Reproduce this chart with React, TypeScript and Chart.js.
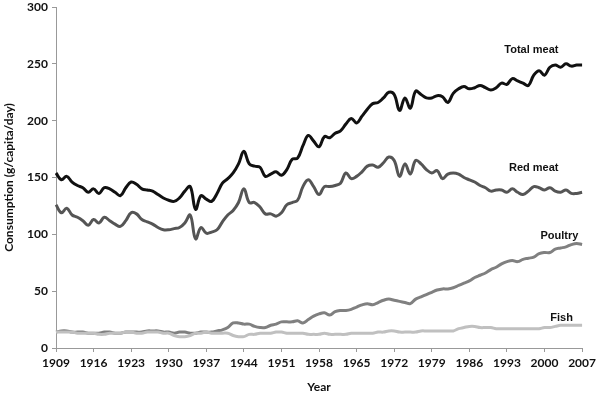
import React, { useEffect, useRef } from "react";
import { Chart, registerables } from "chart.js";

Chart.register(...registerables);

const years: number[] = [];
for (let y = 1909; y <= 2007; y++) years.push(y);

const totalMeat = [
  154, 148, 151, 146, 143, 141, 137, 140, 136, 141,
  140, 137, 134, 141, 146, 144, 140, 139, 138, 135,
  132, 130, 129, 132, 138, 142, 122, 134, 131, 129,
  136, 145, 149, 154, 162, 173, 162, 160, 159, 151,
  153, 155, 152, 157, 166, 167, 178, 187, 182, 177,
  186, 185, 189, 191, 197, 202, 198, 204, 210, 215,
  216, 220, 225, 223, 209, 220, 211, 226, 223, 220,
  220, 222, 221, 216, 224, 228, 230, 228, 229, 231,
  229, 227, 229, 233, 232, 237, 235, 233, 231, 240,
  244, 240, 247, 249, 247, 250, 248, 249, 249,
];

const redMeat = [
  126, 119, 123, 117, 115, 112, 108, 113, 110, 115,
  112, 109, 107, 112, 119, 118, 113, 111, 109, 106,
  104, 104, 105, 106, 110, 117, 96, 106, 101, 102,
  104, 111, 117, 121, 128, 140, 128, 128, 124, 118,
  118, 116, 119, 126, 128, 130, 142, 148, 142, 135,
  142, 142, 143, 145, 154, 149, 151, 155, 160, 161,
  159, 163, 168, 165, 151, 162, 153, 165, 162, 157,
  154, 156, 149, 153, 154, 153, 150, 148, 146, 143,
  141, 138, 139, 139, 137, 140, 137, 135, 138, 142,
  141, 139, 141, 138, 137, 139, 136, 136, 137,
];

const poultry = [
  14, 15, 15, 14, 14, 14, 13, 13, 13, 14,
  14, 13, 13, 14, 14, 14, 14, 15, 15, 15,
  14, 14, 13, 14, 14, 13, 13, 14, 14, 14,
  15, 16, 18, 22, 22, 21, 21, 19, 18, 18,
  20, 21, 23, 23, 23, 24, 22, 25, 28, 30,
  31, 29, 32, 33, 33, 34, 36, 38, 39, 38,
  40, 42, 43, 42, 41, 40, 39, 43, 45, 47,
  49, 51, 52, 52, 53, 55, 57, 59, 62, 64,
  66, 69, 71, 74, 76, 77, 76, 78, 79, 80,
  83, 84, 84, 87, 88, 89, 91, 92, 91,
];

const fish = [
  14, 14, 14, 14, 13, 13, 13, 13, 12, 12,
  13, 13, 13, 14, 14, 13, 13, 14, 14, 14,
  13, 13, 11, 10, 10, 11, 13, 13, 14, 13,
  13, 13, 13, 11, 10, 10, 12, 12, 13, 13,
  13, 14, 14, 13, 13, 13, 13, 12, 12, 12,
  13, 12, 12, 12, 12, 13, 13, 13, 13, 13,
  14, 14, 15, 15, 14, 14, 14, 14, 15, 15,
  15, 15, 15, 15, 15, 17, 18, 19, 19, 18,
  18, 18, 17, 17, 17, 17, 17, 17, 17, 17,
  17, 18, 18, 19, 20, 20, 20, 20, 20,
];

const seriesNames = ["Total meat", "Red meat", "Poultry", "Fish"];
const seriesColors = ["#111111", "#555555", "#808080", "#c0c0c0"];
// label anchors: [year, value] where the right edge / middle of the label sits
const labelAnchors: [number, number][] = [
  [2002.6, 262],
  [2002.6, 158],
  [2006.3, 99],
  [2005.3, 26],
];

const seriesLabelPlugin = {
  id: "seriesLabels",
  afterDatasetsDraw(chart: any) {
    const { ctx, scales } = chart;
    const xs = scales.x;
    const ys = scales.y;
    const x0 = xs.getPixelForValue(0);
    const x1 = xs.getPixelForValue(years.length - 1);
    ctx.save();
    ctx.font = "bold 11px 'Liberation Sans', Arial, sans-serif";
    ctx.fillStyle = "#111";
    ctx.textAlign = "right";
    ctx.textBaseline = "middle";
    labelAnchors.forEach((a, i) => {
      const px = x0 + ((a[0] - years[0]) / (years[years.length - 1] - years[0])) * (x1 - x0);
      const py = ys.getPixelForValue(a[1]);
      ctx.fillText(seriesNames[i], px, py);
    });
    ctx.restore();
  },
};

export default function App() {
  const ref = useRef<HTMLCanvasElement>(null);
  useEffect(() => {
    document.body.style.margin = "0";
    const datasets = [totalMeat, redMeat, poultry, fish].map((d, i) => ({
      label: seriesNames[i],
      data: d,
      borderColor: seriesColors[i],
      backgroundColor: seriesColors[i],
      borderWidth: 3,
      pointRadius: 0,
      tension: 0.4,
      fill: false,
    }));
    const tickFont = { family: "Lato, 'Open Sans', sans-serif", size: 12, weight: "bold" as const };
    const chart = new Chart(ref.current!, {
      type: "line",
      data: { labels: years.map(String), datasets: datasets.slice().reverse() },
      options: {
        animation: false,
        responsive: false,
        maintainAspectRatio: false,
        layout: { padding: { left: 0, right: 16, top: 0, bottom: 0 } },
        plugins: { legend: { display: false }, tooltip: { enabled: false } },
        scales: {
          x: {
            type: "category",
            offset: false,
            grid: {
              display: true,
              drawOnChartArea: false,
              drawTicks: true,
              tickLength: 4,
              color: "#999",
            },
            border: { display: true, color: "#999", width: 1 },
            ticks: {
              autoSkip: false,
              maxRotation: 0,
              color: "#111",
              font: tickFont,
              padding: 4,
              callback: (_v: any, idx: number) =>
                (years[idx] - 1909) % 7 === 0 ? String(years[idx]) : null,
            },
            title: {
              display: true,
              text: "Year",
              color: "#111",
              font: { family: "Lato, 'Open Sans', sans-serif", size: 12, weight: "bold" },
              padding: { top: 4, bottom: 0 },
            },
            afterFit: (s: any) => {
              s.height = 46;
            },
          },
          y: {
            min: 0,
            max: 300,
            ticks: { stepSize: 50, color: "#111", font: tickFont, padding: 4 },
            grid: {
              display: true,
              drawOnChartArea: false,
              drawTicks: true,
              tickLength: 4,
              color: "#999",
            },
            border: { display: true, color: "#999", width: 1 },
            title: {
              display: true,
              text: "Consumption (g/capita/day)",
              color: "#111",
              font: { family: "Lato, 'Open Sans', sans-serif", size: 12, weight: "bold" },
              padding: { top: 2, bottom: 4 },
            },
            afterFit: (s: any) => {
              s.width = 56;
              s.paddingTop = 7;
            },
          },
        },
      },
      plugins: [seriesLabelPlugin],
    });
    return () => chart.destroy();
  }, []);
  return (
    <div style={{ width: 600, height: 394 }}>
      <canvas ref={ref} width={600} height={394} style={{ display: "block" }} />
    </div>
  );
}
